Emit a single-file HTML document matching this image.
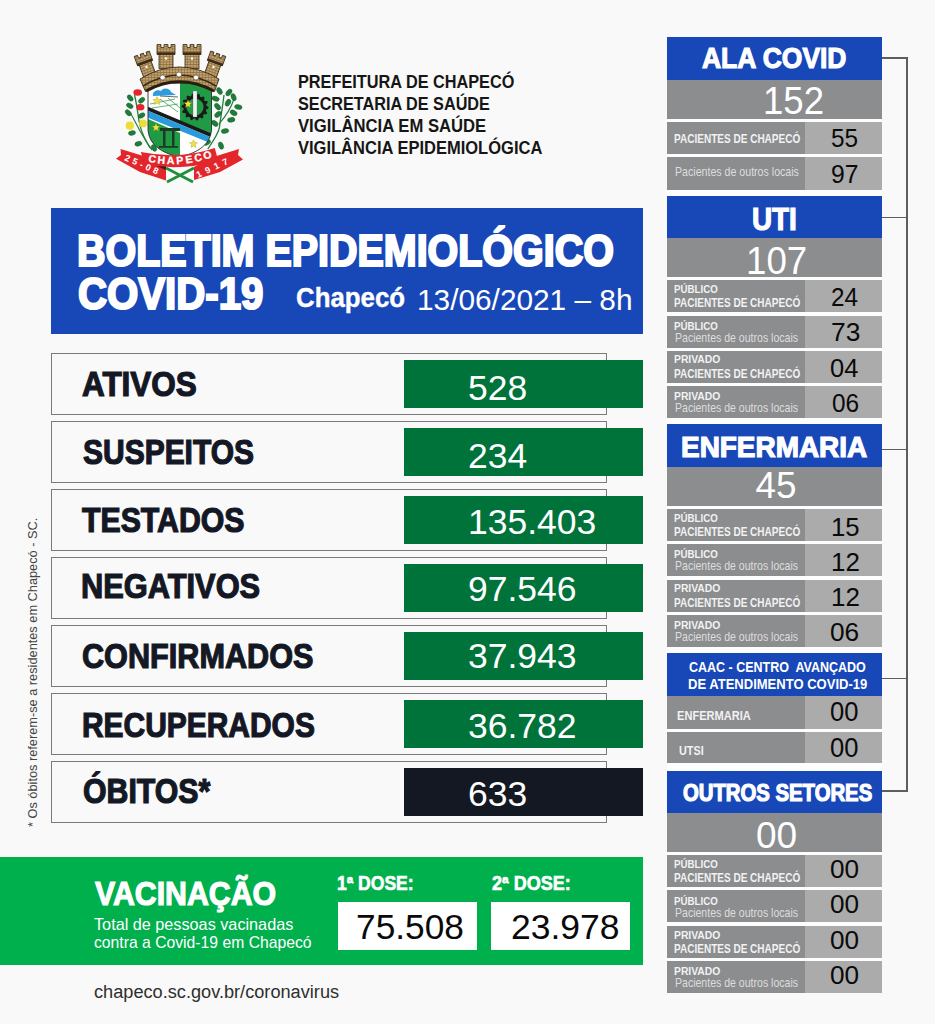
<!DOCTYPE html>
<html><head><meta charset="utf-8"><style>
html,body{margin:0;padding:0;}
body{width:935px;height:1024px;overflow:hidden;background:#f9f9f9;position:relative;}
.t{position:absolute;font-family:"Liberation Sans",sans-serif;line-height:0;white-space:nowrap;transform-origin:0 0;}
.b{position:absolute;}
</style></head><body>
<div class="b" style="left:51px;top:208px;width:592px;height:126px;background:#1847b8;"></div>
<div class="b" style="left:51px;top:353px;width:556px;height:62px;border:1.5px solid #7a7a7a;box-sizing:border-box"></div>
<div class="b" style="left:51px;top:421px;width:556px;height:62px;border:1.5px solid #7a7a7a;box-sizing:border-box"></div>
<div class="b" style="left:51px;top:489px;width:556px;height:62px;border:1.5px solid #7a7a7a;box-sizing:border-box"></div>
<div class="b" style="left:51px;top:557px;width:556px;height:62px;border:1.5px solid #7a7a7a;box-sizing:border-box"></div>
<div class="b" style="left:51px;top:625px;width:556px;height:62px;border:1.5px solid #7a7a7a;box-sizing:border-box"></div>
<div class="b" style="left:51px;top:693px;width:556px;height:62px;border:1.5px solid #7a7a7a;box-sizing:border-box"></div>
<div class="b" style="left:51px;top:761px;width:556px;height:62px;border:1.5px solid #7a7a7a;box-sizing:border-box"></div>
<div class="b" style="left:404px;top:360px;width:239px;height:48px;background:#00733b;"></div>
<div class="b" style="left:404px;top:428px;width:239px;height:48px;background:#00733b;"></div>
<div class="b" style="left:404px;top:496px;width:239px;height:48px;background:#00733b;"></div>
<div class="b" style="left:404px;top:564px;width:239px;height:48px;background:#00733b;"></div>
<div class="b" style="left:404px;top:632px;width:239px;height:48px;background:#00733b;"></div>
<div class="b" style="left:404px;top:700px;width:239px;height:48px;background:#00733b;"></div>
<div class="b" style="left:404px;top:768px;width:239px;height:48px;background:#141822;"></div>
<div class="b" style="left:0px;top:857px;width:643px;height:107.5px;background:#00b04d;"></div>
<div class="b" style="left:338px;top:901.5px;width:139px;height:48.0px;background:#fff;"></div>
<div class="b" style="left:491px;top:901.5px;width:139px;height:48.0px;background:#fff;"></div>
<div class="b" style="left:667px;top:37px;width:215px;height:956px;background:#fdfdfd;"></div>
<div class="b" style="left:667px;top:37px;width:215px;height:43px;background:#1847b8;"></div>
<div class="b" style="left:667px;top:80px;width:215px;height:39px;background:#8c8d8f;"></div>
<div class="b" style="left:667px;top:122px;width:138px;height:32px;background:#8c8d8f;"></div>
<div class="b" style="left:805px;top:122px;width:77px;height:32px;background:#ababab;"></div>
<div class="b" style="left:667px;top:157px;width:138px;height:33px;background:#8c8d8f;"></div>
<div class="b" style="left:805px;top:157px;width:77px;height:33px;background:#ababab;"></div>
<div class="b" style="left:667px;top:196px;width:215px;height:42px;background:#1847b8;"></div>
<div class="b" style="left:667px;top:238px;width:215px;height:39px;background:#8c8d8f;"></div>
<div class="b" style="left:667px;top:280px;width:138px;height:32px;background:#8c8d8f;"></div>
<div class="b" style="left:805px;top:280px;width:77px;height:32px;background:#ababab;"></div>
<div class="b" style="left:667px;top:315.5px;width:138px;height:32.0px;background:#8c8d8f;"></div>
<div class="b" style="left:805px;top:315.5px;width:77px;height:32.0px;background:#ababab;"></div>
<div class="b" style="left:667px;top:350.7px;width:138px;height:32.0px;background:#8c8d8f;"></div>
<div class="b" style="left:805px;top:350.7px;width:77px;height:32.0px;background:#ababab;"></div>
<div class="b" style="left:667px;top:386px;width:138px;height:32px;background:#8c8d8f;"></div>
<div class="b" style="left:805px;top:386px;width:77px;height:32px;background:#ababab;"></div>
<div class="b" style="left:667px;top:424px;width:215px;height:42.5px;background:#1847b8;"></div>
<div class="b" style="left:667px;top:466.5px;width:215px;height:39.5px;background:#8c8d8f;"></div>
<div class="b" style="left:667px;top:509px;width:138px;height:32px;background:#8c8d8f;"></div>
<div class="b" style="left:805px;top:509px;width:77px;height:32px;background:#ababab;"></div>
<div class="b" style="left:667px;top:544px;width:138px;height:32px;background:#8c8d8f;"></div>
<div class="b" style="left:805px;top:544px;width:77px;height:32px;background:#ababab;"></div>
<div class="b" style="left:667px;top:579.7px;width:138px;height:32.0px;background:#8c8d8f;"></div>
<div class="b" style="left:805px;top:579.7px;width:77px;height:32.0px;background:#ababab;"></div>
<div class="b" style="left:667px;top:614.7px;width:138px;height:32.0px;background:#8c8d8f;"></div>
<div class="b" style="left:805px;top:614.7px;width:77px;height:32.0px;background:#ababab;"></div>
<div class="b" style="left:667px;top:653px;width:215px;height:43px;background:#1847b8;"></div>
<div class="b" style="left:667px;top:696px;width:138px;height:32.60000000000002px;background:#8c8d8f;"></div>
<div class="b" style="left:805px;top:696px;width:77px;height:32.60000000000002px;background:#ababab;"></div>
<div class="b" style="left:667px;top:731.6px;width:138px;height:31.899999999999977px;background:#8c8d8f;"></div>
<div class="b" style="left:805px;top:731.6px;width:77px;height:31.899999999999977px;background:#ababab;"></div>
<div class="b" style="left:667px;top:770.5px;width:215px;height:42.299999999999955px;background:#1847b8;"></div>
<div class="b" style="left:667px;top:812.8px;width:215px;height:39.700000000000045px;background:#8c8d8f;"></div>
<div class="b" style="left:667px;top:855px;width:138px;height:32px;background:#8c8d8f;"></div>
<div class="b" style="left:805px;top:855px;width:77px;height:32px;background:#ababab;"></div>
<div class="b" style="left:667px;top:890.4px;width:138px;height:32.0px;background:#8c8d8f;"></div>
<div class="b" style="left:805px;top:890.4px;width:77px;height:32.0px;background:#ababab;"></div>
<div class="b" style="left:667px;top:926px;width:138px;height:32px;background:#8c8d8f;"></div>
<div class="b" style="left:805px;top:926px;width:77px;height:32px;background:#ababab;"></div>
<div class="b" style="left:667px;top:961px;width:138px;height:32px;background:#8c8d8f;"></div>
<div class="b" style="left:805px;top:961px;width:77px;height:32px;background:#ababab;"></div>
<div class="b" style="left:906.4px;top:58px;width:1.3999999999999773px;height:733.6px;background:#5e5e5e;"></div>
<div class="b" style="left:882px;top:57.4px;width:25.799999999999955px;height:1.3999999999999986px;background:#5e5e5e;"></div>
<div class="b" style="left:882px;top:216.70000000000002px;width:25.799999999999955px;height:1.4000000000000057px;background:#5e5e5e;"></div>
<div class="b" style="left:882px;top:448.9px;width:25.799999999999955px;height:1.400000000000034px;background:#5e5e5e;"></div>
<div class="b" style="left:882px;top:677.8px;width:25.799999999999955px;height:1.3999999999999773px;background:#5e5e5e;"></div>
<div class="b" style="left:882px;top:790.4px;width:25.799999999999955px;height:1.3999999999999773px;background:#5e5e5e;"></div>
<svg style="position:absolute;left:110px;top:36px" width="140" height="154" viewBox="110 36 140 154">
<defs><pattern id="brick" width="3" height="2.6" patternUnits="userSpaceOnUse"><rect width="3" height="2.6" fill="#c2a46e"/><rect x="0" y="2" width="3" height="0.6" fill="#7a5c32"/><rect x="1.2" y="0" width="0.6" height="2" fill="#8a6a3c"/></pattern></defs>
<path d="M134.5,95 C137,105 138,115 139,121 C141,132 146,142 152,150" stroke="#1f7d3b" stroke-width="1.3" fill="none"/>
<path d="M130,112 C135,122 142,135 150,148" stroke="#1f7d3b" stroke-width="1.1" fill="none"/>
<path d="M207.8,149 C214,140 219,132 219.5,127 C221,115 223,104 224,95" stroke="#1f7d3b" stroke-width="1.3" fill="none"/>
<path d="M219,124 C226,116 231,108 234,99" stroke="#1f7d3b" stroke-width="1.1" fill="none"/>
<ellipse cx="130.2" cy="98" rx="3.6" ry="2.3" transform="rotate(50 130.2 98)" fill="#1f7d3b" stroke="#125a22" stroke-width="0.4"/>
<ellipse cx="129.8" cy="105.8" rx="3.6" ry="2.3" transform="rotate(30 129.8 105.8)" fill="#1f7d3b" stroke="#125a22" stroke-width="0.4"/>
<ellipse cx="128.3" cy="112.8" rx="3.6" ry="2.3" transform="rotate(45 128.3 112.8)" fill="#1f7d3b" stroke="#125a22" stroke-width="0.4"/>
<ellipse cx="141.6" cy="100.3" rx="3.6" ry="2.3" transform="rotate(-40 141.6 100.3)" fill="#1f7d3b" stroke="#125a22" stroke-width="0.4"/>
<ellipse cx="141.6" cy="115.5" rx="3.6" ry="2.3" transform="rotate(-30 141.6 115.5)" fill="#1f7d3b" stroke="#125a22" stroke-width="0.4"/>
<ellipse cx="132" cy="133" rx="3.6" ry="2.3" transform="rotate(-10 132 133)" fill="#1f7d3b" stroke="#125a22" stroke-width="0.4"/>
<ellipse cx="138.4" cy="143.7" rx="3.6" ry="2.3" transform="rotate(-15 138.4 143.7)" fill="#1f7d3b" stroke="#125a22" stroke-width="0.4"/>
<ellipse cx="154" cy="148" rx="3.6" ry="2.3" transform="rotate(60 154 148)" fill="#1f7d3b" stroke="#125a22" stroke-width="0.4"/>
<ellipse cx="219.5" cy="91" rx="3.8" ry="2.4" transform="rotate(60 219.5 91)" fill="#1f7d3b" stroke="#125a22" stroke-width="0.4"/>
<ellipse cx="228.9" cy="92.5" rx="3.8" ry="2.4" transform="rotate(-50 228.9 92.5)" fill="#1f7d3b" stroke="#125a22" stroke-width="0.4"/>
<ellipse cx="215.6" cy="98.75" rx="3.8" ry="2.4" transform="rotate(20 215.6 98.75)" fill="#1f7d3b" stroke="#125a22" stroke-width="0.4"/>
<ellipse cx="233.6" cy="97.2" rx="3.8" ry="2.4" transform="rotate(70 233.6 97.2)" fill="#1f7d3b" stroke="#125a22" stroke-width="0.4"/>
<ellipse cx="228" cy="102.7" rx="3.8" ry="2.4" transform="rotate(-60 228 102.7)" fill="#1f7d3b" stroke="#125a22" stroke-width="0.4"/>
<ellipse cx="238.3" cy="107" rx="3.8" ry="2.4" transform="rotate(10 238.3 107)" fill="#1f7d3b" stroke="#125a22" stroke-width="0.4"/>
<ellipse cx="217.6" cy="106.6" rx="3.8" ry="2.4" transform="rotate(50 217.6 106.6)" fill="#1f7d3b" stroke="#125a22" stroke-width="0.4"/>
<ellipse cx="218" cy="114.4" rx="3.8" ry="2.4" transform="rotate(-40 218 114.4)" fill="#1f7d3b" stroke="#125a22" stroke-width="0.4"/>
<ellipse cx="233.6" cy="112.8" rx="3.8" ry="2.4" transform="rotate(30 233.6 112.8)" fill="#1f7d3b" stroke="#125a22" stroke-width="0.4"/>
<ellipse cx="231.25" cy="119.8" rx="3.8" ry="2.4" transform="rotate(-10 231.25 119.8)" fill="#1f7d3b" stroke="#125a22" stroke-width="0.4"/>
<ellipse cx="214.8" cy="123.4" rx="3.8" ry="2.4" transform="rotate(40 214.8 123.4)" fill="#1f7d3b" stroke="#125a22" stroke-width="0.4"/>
<ellipse cx="225" cy="131" rx="3.8" ry="2.4" transform="rotate(-10 225 131)" fill="#1f7d3b" stroke="#125a22" stroke-width="0.4"/>
<ellipse cx="207" cy="142.5" rx="3.8" ry="2.4" transform="rotate(-30 207 142.5)" fill="#1f7d3b" stroke="#125a22" stroke-width="0.4"/>
<ellipse cx="221" cy="145.6" rx="3.8" ry="2.4" transform="rotate(70 221 145.6)" fill="#1f7d3b" stroke="#125a22" stroke-width="0.4"/>
<ellipse cx="137.7" cy="92.5" rx="4.3" ry="3.2" fill="#e2262c"/><ellipse cx="140.4" cy="107.3" rx="4" ry="3.2" fill="#e2262c"/>
<circle cx="129.8" cy="125.7" r="4.1" fill="#eedd33"/><circle cx="143" cy="123.4" r="3.9" fill="#eedd33"/>
<clipPath id="sc"><path d="M148,83 L211.5,83 L211.5,128 C211.5,144 198,153 179.5,157 C161,153 148,144 148,128 Z"/></clipPath>
<path d="M148,83 L211.5,83 L211.5,128 C211.5,144 198,153 179.5,157 C161,153 148,144 148,128 Z" fill="#fff"/>
<g clip-path="url(#sc)">
<polygon points="180,80 215,80 215,137 180,121" fill="#1f9a45"/>
<polygon points="146,118 180,133 180,160 146,160" fill="#1f9a45"/>
<path d="M150,104 L175,99 M152,108 L178,104 M160,99 L178,112 M168,98 L180,108" stroke="#3aa655" stroke-width="0.8"/>
<polygon points="146,106 215,135 215,139 146,110" fill="#1a1a1a"/>
<polygon points="146,110 215,139 215,145 146,117" fill="#2a9ad8"/>
</g>
<path d="M148,83 L211.5,83 L211.5,128 C211.5,144 198,153 179.5,157 C161,153 148,144 148,128 Z" fill="none" stroke="#2a2a2a" stroke-width="0.9"/>
<path d="M153,96 C152,91 158,89 161,91 C163,87 170,88 171,92 L176,95 Z" fill="#2d9be0"/>
<path d="M160,96 L178,97" stroke="#444" stroke-width="0.8"/>
<polygon points="208.5,107.0 208.4,108.5 206.2,109.6 205.9,110.8 207.2,112.9 206.4,114.2 204.0,114.2 203.1,115.1 203.4,117.6 202.2,118.4 200.0,117.4 198.8,117.9 198.0,120.2 196.5,120.4 195.0,118.5 193.7,118.4 192.0,120.2 190.5,119.7 190.0,117.4 188.9,116.7 186.6,117.6 185.5,116.5 186.0,114.2 185.3,113.1 182.8,112.9 182.3,111.5 183.8,109.6 183.6,108.3 181.5,107.0 181.6,105.5 183.8,104.4 184.1,103.2 182.8,101.1 183.6,99.8 186.0,99.8 186.9,98.9 186.6,96.4 187.8,95.6 190.0,96.6 191.2,96.1 192.0,93.8 193.5,93.6 195.0,95.5 196.3,95.6 198.0,93.8 199.5,94.3 200.0,96.6 201.1,97.3 203.4,96.4 204.5,97.5 204.0,99.8 204.7,100.9 207.2,101.1 207.7,102.5 206.2,104.4 206.4,105.7" fill="#1a1a1a"/>
<circle cx="195" cy="107" r="8.6" fill="#1f9a45"/>
<rect x="193" y="91" width="4" height="26" fill="#f2f2f2" stroke="#666" stroke-width="0.3"/>
<polygon points="157.0,96.6 158.2,99.4 161.2,99.6 158.9,101.6 159.6,104.6 157.0,103.0 154.4,104.6 155.1,101.6 152.8,99.6 155.8,99.4" fill="#f4e23c" stroke="#8a7a10" stroke-width="0.3"/>
<polygon points="188.0,99.8 189.1,102.5 192.0,102.7 189.8,104.6 190.5,107.4 188.0,105.9 185.5,107.4 186.2,104.6 184.0,102.7 186.9,102.5" fill="#f4e23c" stroke="#8a7a10" stroke-width="0.3"/>
<polygon points="156.0,123.3 157.1,126.0 160.0,126.2 157.8,128.1 158.5,130.9 156.0,129.4 153.5,130.9 154.2,128.1 152.0,126.2 154.9,126.0" fill="#f4e23c" stroke="#8a7a10" stroke-width="0.3"/>
<polygon points="193.5,139.8 194.6,142.5 197.5,142.7 195.3,144.6 196.0,147.4 193.5,145.9 191.0,147.4 191.7,144.6 189.5,142.7 192.4,142.5" fill="#f4e23c" stroke="#8a7a10" stroke-width="0.3"/>
<rect x="160" y="128" width="20" height="3" fill="#1d3a22"/><rect x="163" y="131" width="2.5" height="16" fill="#1d3a22"/><rect x="172" y="131" width="2.5" height="16" fill="#1d3a22"/><rect x="159" y="146" width="19" height="1.8" fill="#1d3a22"/>
<g transform="rotate(-20 146 65.5)"><rect x="139.8" y="62.0" width="12.5" height="16.0" fill="url(#brick)" stroke="#3a2a18" stroke-width="0.8"/><path d="M138.0,63.0 L138.0,53.0 L141.5,53.0 L141.5,56.0 L144.2,56.0 L144.2,53.0 L147.8,53.0 L147.8,56.0 L150.5,56.0 L150.5,53.0 L154.0,53.0 L154.0,63.0 Z" fill="url(#brick)" stroke="#3a2a18" stroke-width="0.8"/><rect x="138.0" y="60.8" width="16.0" height="2.2" fill="#3a2a18"/><circle cx="146.0" cy="67.0" r="1.2" fill="#fff"/></g>
<g transform="rotate(20 214 65.5)"><rect x="207.8" y="62.0" width="12.5" height="16.0" fill="url(#brick)" stroke="#3a2a18" stroke-width="0.8"/><path d="M206.0,63.0 L206.0,53.0 L209.5,53.0 L209.5,56.0 L212.2,56.0 L212.2,53.0 L215.8,53.0 L215.8,56.0 L218.5,56.0 L218.5,53.0 L222.0,53.0 L222.0,63.0 Z" fill="url(#brick)" stroke="#3a2a18" stroke-width="0.8"/><rect x="206.0" y="60.8" width="16.0" height="2.2" fill="#3a2a18"/><circle cx="214.0" cy="67.0" r="1.2" fill="#fff"/></g>
<g transform="rotate(0 166 56.5)"><rect x="159.0" y="53.5" width="14.0" height="15.0" fill="url(#brick)" stroke="#3a2a18" stroke-width="0.8"/><path d="M157.0,54.5 L157.0,44.5 L161.0,44.5 L161.0,47.5 L164.0,47.5 L164.0,44.5 L168.0,44.5 L168.0,47.5 L171.0,47.5 L171.0,44.5 L175.0,44.5 L175.0,54.5 Z" fill="url(#brick)" stroke="#3a2a18" stroke-width="0.8"/><rect x="157.0" y="52.3" width="18.0" height="2.2" fill="#3a2a18"/><circle cx="166.0" cy="58.5" r="1.2" fill="#fff"/></g>
<g transform="rotate(0 192 56.5)"><rect x="185.0" y="53.5" width="14.0" height="15.0" fill="url(#brick)" stroke="#3a2a18" stroke-width="0.8"/><path d="M183.0,54.5 L183.0,44.5 L187.0,44.5 L187.0,47.5 L190.0,47.5 L190.0,44.5 L194.0,44.5 L194.0,47.5 L197.0,47.5 L197.0,44.5 L201.0,44.5 L201.0,54.5 Z" fill="url(#brick)" stroke="#3a2a18" stroke-width="0.8"/><rect x="183.0" y="52.3" width="18.0" height="2.2" fill="#3a2a18"/><circle cx="192.0" cy="58.5" r="1.2" fill="#fff"/></g>
<path d="M140,79 Q179,55 219,79 L214.5,91.5 Q179,72 145.5,91.5 Z" fill="url(#brick)" stroke="#3a2a18" stroke-width="0.9"/>
<path d="M143,86 Q179,64 216,86" stroke="#3a2a18" stroke-width="1.6" fill="none"/>
<path d="M146,91 Q179,72.5 214,91" stroke="#2a1e10" stroke-width="3" fill="none"/>
<ellipse cx="162.6" cy="77.5" rx="2.6" ry="2.4" fill="#fff" stroke="#3a2a18" stroke-width="0.5"/>
<ellipse cx="179" cy="74.5" rx="2.6" ry="2.4" fill="#fff" stroke="#3a2a18" stroke-width="0.5"/>
<ellipse cx="196" cy="77.5" rx="2.6" ry="2.4" fill="#fff" stroke="#3a2a18" stroke-width="0.5"/>
<path d="M120.5,149 L150,158 L166,167 L166,180.5 L140,172 L116,158.7 L121,155 Z" fill="#e3262c"/>
<path d="M239,149 L210,158 L194,167 L194,180 L220,172 L243,159.5 L238,155 Z" fill="#e3262c"/>
<path d="M143,160 L166,170 L166,163 Z" fill="#3a1a1a"/>
<path d="M166,168 L193,182 M194,168 L167,182" stroke="#1f8f3c" stroke-width="2.8"/>
<path d="M140.7,152 Q180,160 214.8,148 L218,160.2 Q180,172 145.2,164 Z" fill="#e3262c"/>
<text x="0" y="0" transform="translate(151.7,162.4) rotate(9.8)" text-anchor="middle" font-family="Liberation Sans" font-weight="bold" font-size="10.5" fill="#fff" stroke="#fff" stroke-width="0.3">C</text>
<text x="0" y="0" transform="translate(161.1,163.7) rotate(5.3)" text-anchor="middle" font-family="Liberation Sans" font-weight="bold" font-size="10.5" fill="#fff" stroke="#fff" stroke-width="0.3">H</text>
<text x="0" y="0" transform="translate(170.6,164.1) rotate(0.7)" text-anchor="middle" font-family="Liberation Sans" font-weight="bold" font-size="10.5" fill="#fff" stroke="#fff" stroke-width="0.3">A</text>
<text x="0" y="0" transform="translate(180.0,163.9) rotate(-3.9)" text-anchor="middle" font-family="Liberation Sans" font-weight="bold" font-size="10.5" fill="#fff" stroke="#fff" stroke-width="0.3">P</text>
<text x="0" y="0" transform="translate(189.4,162.9) rotate(-8.4)" text-anchor="middle" font-family="Liberation Sans" font-weight="bold" font-size="10.5" fill="#fff" stroke="#fff" stroke-width="0.3">E</text>
<text x="0" y="0" transform="translate(198.9,161.1) rotate(-12.9)" text-anchor="middle" font-family="Liberation Sans" font-weight="bold" font-size="10.5" fill="#fff" stroke="#fff" stroke-width="0.3">C</text>
<text x="0" y="0" transform="translate(208.3,158.5) rotate(-17.1)" text-anchor="middle" font-family="Liberation Sans" font-weight="bold" font-size="10.5" fill="#fff" stroke="#fff" stroke-width="0.3">O</text>
<text transform="translate(124,160) rotate(24)" font-family="Liberation Sans" font-weight="bold" font-size="9" fill="#fff" textLength="36" lengthAdjust="spacing">25-08</text>
<text transform="translate(198,178) rotate(-25)" font-family="Liberation Sans" font-weight="bold" font-size="9" fill="#fff" textLength="34" lengthAdjust="spacing">1917</text>
</svg>
<div class="t" style="left:297.54px;top:81.82px;font-size:17.83px;color:#161616;font-weight:bold;transform:scaleX(0.9127);">PREFEITURA DE CHAPECÓ</div>
<div class="t" style="left:298.11px;top:103.82px;font-size:17.83px;color:#161616;font-weight:bold;transform:scaleX(0.9094);">SECRETARIA DE SAÚDE</div>
<div class="t" style="left:298.43px;top:125.62px;font-size:17.83px;color:#161616;font-weight:bold;transform:scaleX(0.9345);">VIGILÂNCIA EM SAÚDE</div>
<div class="t" style="left:298.43px;top:147.62px;font-size:17.83px;color:#161616;font-weight:bold;transform:scaleX(0.9262);">VIGILÂNCIA EPIDEMIOLÓGICA</div>
<div class="t" style="left:76.72px;top:251.08px;font-size:43.91px;color:#fff;font-weight:bold;-webkit-text-stroke:2.2px #fff;transform:scaleX(0.8983);">BOLETIM EPIDEMIOLÓGICO</div>
<div class="t" style="left:77.70px;top:294.28px;font-size:43.91px;color:#fff;font-weight:bold;-webkit-text-stroke:2.2px #fff;transform:scaleX(0.9153);">COVID-19</div>
<div class="t" style="left:296.45px;top:296.56px;font-size:28.41px;color:#fff;font-weight:bold;-webkit-text-stroke:0.4px #fff;transform:scaleX(0.9093);">Chapecó</div>
<div class="t" style="left:416.76px;top:300.35px;font-size:29.29px;color:#fff;transform:scaleX(1.0181);">13/06/2021 – 8h</div>
<div class="t" style="left:81.57px;top:384.35px;font-size:34.20px;color:#141824;font-weight:bold;-webkit-text-stroke:1.2px #141824;transform:scaleX(0.9207);">ATIVOS</div>
<div class="t" style="left:82.93px;top:451.75px;font-size:34.20px;color:#141824;font-weight:bold;-webkit-text-stroke:1.2px #141824;transform:scaleX(0.8768);">SUSPEITOS</div>
<div class="t" style="left:82.03px;top:520.15px;font-size:34.20px;color:#141824;font-weight:bold;-webkit-text-stroke:1.2px #141824;transform:scaleX(0.8853);">TESTADOS</div>
<div class="t" style="left:81.44px;top:586.05px;font-size:34.20px;color:#141824;font-weight:bold;-webkit-text-stroke:1.2px #141824;transform:scaleX(0.9010);">NEGATIVOS</div>
<div class="t" style="left:81.81px;top:655.95px;font-size:34.20px;color:#141824;font-weight:bold;-webkit-text-stroke:1.2px #141824;transform:scaleX(0.8960);">CONFIRMADOS</div>
<div class="t" style="left:81.88px;top:724.55px;font-size:34.20px;color:#141824;font-weight:bold;-webkit-text-stroke:1.2px #141824;transform:scaleX(0.8756);">RECUPERADOS</div>
<div class="t" style="left:82.62px;top:791.35px;font-size:34.20px;color:#141824;font-weight:bold;-webkit-text-stroke:1.2px #141824;transform:scaleX(0.8858);">ÓBITOS*</div>
<div class="t" style="left:468.00px;top:387.60px;font-size:35.50px;color:#fff;">528</div>
<div class="t" style="left:468.00px;top:455.50px;font-size:35.50px;color:#fff;">234</div>
<div class="t" style="left:468.00px;top:521.50px;font-size:35.50px;color:#fff;">135.403</div>
<div class="t" style="left:468.00px;top:588.80px;font-size:35.50px;color:#fff;">97.546</div>
<div class="t" style="left:468.00px;top:655.90px;font-size:35.50px;color:#fff;">37.943</div>
<div class="t" style="left:468.00px;top:725.70px;font-size:35.50px;color:#fff;">36.782</div>
<div class="t" style="left:468.00px;top:793.80px;font-size:35.50px;color:#fff;">633</div>
<div class="t" style="left:701.67px;top:58.16px;font-size:29.86px;color:#fff;font-weight:bold;-webkit-text-stroke:1.2px #fff;transform:scaleX(0.8856);">ALA COVID</div>
<div class="t" style="left:751.57px;top:220.45px;font-size:30.72px;color:#fff;font-weight:bold;-webkit-text-stroke:1.2px #fff;transform:scaleX(0.9055);">UTI</div>
<div class="t" style="left:681.16px;top:447.06px;font-size:28.99px;color:#fff;font-weight:bold;-webkit-text-stroke:1.2px #fff;transform:scaleX(0.9636);">ENFERMARIA</div>
<div class="t" style="left:688.60px;top:666.63px;font-size:14.06px;color:#fff;font-weight:bold;transform:scaleX(0.8896);">CAAC - CENTRO  AVANÇADO</div>
<div class="t" style="left:687.55px;top:683.93px;font-size:14.06px;color:#fff;font-weight:bold;transform:scaleX(0.9275);">DE ATENDIMENTO COVID-19</div>
<div class="t" style="left:682.71px;top:793.37px;font-size:23.19px;color:#fff;font-weight:bold;-webkit-text-stroke:1.2px #fff;transform:scaleX(0.8758);">OUTROS SETORES</div>
<div class="t" style="left:763.25px;top:100.78px;font-size:38.14px;color:#fff;transform:scaleX(0.9602);">152</div>
<div class="t" style="left:746.15px;top:261.33px;font-size:38.57px;color:#fff;transform:scaleX(0.9512);">107</div>
<div class="t" style="left:755.58px;top:485.83px;font-size:36.86px;color:#fff;">45</div>
<div class="t" style="left:755.72px;top:835.93px;font-size:36.57px;color:#fff;transform:scaleX(1.0115);">00</div>
<div class="t" style="left:831.43px;top:137.89px;font-size:25.71px;color:#0a0a0a;transform:scaleX(0.9477);">55</div>
<div class="t" style="left:831.29px;top:173.59px;font-size:25.71px;color:#0a0a0a;transform:scaleX(0.9617);">97</div>
<div class="t" style="left:831.29px;top:296.89px;font-size:25.71px;color:#0a0a0a;transform:scaleX(0.9439);">24</div>
<div class="t" style="left:831.18px;top:332.39px;font-size:25.71px;color:#0a0a0a;transform:scaleX(1.0268);">73</div>
<div class="t" style="left:829.98px;top:367.59px;font-size:25.71px;color:#0a0a0a;transform:scaleX(0.9909);">04</div>
<div class="t" style="left:831.52px;top:402.89px;font-size:25.71px;color:#0a0a0a;transform:scaleX(0.9485);">06</div>
<div class="t" style="left:831.07px;top:526.64px;font-size:26.43px;color:#0a0a0a;transform:scaleX(0.9735);">15</div>
<div class="t" style="left:831.05px;top:561.64px;font-size:26.43px;color:#0a0a0a;transform:scaleX(0.9834);">12</div>
<div class="t" style="left:831.05px;top:597.34px;font-size:26.43px;color:#0a0a0a;transform:scaleX(0.9834);">12</div>
<div class="t" style="left:829.95px;top:632.34px;font-size:26.43px;color:#0a0a0a;transform:scaleX(0.9930);">06</div>
<div class="t" style="left:830.38px;top:711.84px;font-size:26.71px;color:#0a0a0a;transform:scaleX(0.9558);">00</div>
<div class="t" style="left:830.38px;top:747.84px;font-size:26.71px;color:#0a0a0a;transform:scaleX(0.9558);">00</div>
<div class="t" style="left:829.95px;top:868.64px;font-size:26.14px;color:#0a0a0a;">00</div>
<div class="t" style="left:829.95px;top:904.04px;font-size:26.14px;color:#0a0a0a;">00</div>
<div class="t" style="left:829.95px;top:939.64px;font-size:26.14px;color:#0a0a0a;">00</div>
<div class="t" style="left:829.95px;top:974.64px;font-size:26.14px;color:#0a0a0a;">00</div>
<div class="t" style="left:674.05px;top:139.48px;font-size:13.04px;color:#f2f2f2;font-weight:bold;transform:scaleX(0.7694);">PACIENTES DE CHAPECÓ</div>
<div class="t" style="left:674.65px;top:172.23px;font-size:13.48px;color:#dedede;transform:scaleX(0.7881);">Pacientes de outros locais</div>
<div class="t" style="left:674.07px;top:289.68px;font-size:10.43px;color:#f2f2f2;font-weight:bold;transform:scaleX(0.9321);">PÚBLICO</div>
<div class="t" style="left:674.05px;top:303.23px;font-size:12.03px;color:#f2f2f2;font-weight:bold;transform:scaleX(0.8343);">PACIENTES DE CHAPECÓ</div>
<div class="t" style="left:674.07px;top:326.88px;font-size:10.43px;color:#f2f2f2;font-weight:bold;transform:scaleX(0.9321);">PÚBLICO</div>
<div class="t" style="left:674.66px;top:337.98px;font-size:12.17px;color:#dedede;transform:scaleX(0.8669);">Pacientes de outros locais</div>
<div class="t" style="left:674.03px;top:360.38px;font-size:10.43px;color:#f2f2f2;font-weight:bold;transform:scaleX(0.9923);">PRIVADO</div>
<div class="t" style="left:674.05px;top:373.93px;font-size:12.03px;color:#f2f2f2;font-weight:bold;transform:scaleX(0.8343);">PACIENTES DE CHAPECÓ</div>
<div class="t" style="left:674.03px;top:397.38px;font-size:10.43px;color:#f2f2f2;font-weight:bold;transform:scaleX(0.9923);">PRIVADO</div>
<div class="t" style="left:674.66px;top:408.48px;font-size:12.17px;color:#dedede;transform:scaleX(0.8669);">Pacientes de outros locais</div>
<div class="t" style="left:674.07px;top:518.68px;font-size:10.43px;color:#f2f2f2;font-weight:bold;transform:scaleX(0.9321);">PÚBLICO</div>
<div class="t" style="left:674.05px;top:532.23px;font-size:12.03px;color:#f2f2f2;font-weight:bold;transform:scaleX(0.8343);">PACIENTES DE CHAPECÓ</div>
<div class="t" style="left:674.07px;top:555.38px;font-size:10.43px;color:#f2f2f2;font-weight:bold;transform:scaleX(0.9321);">PÚBLICO</div>
<div class="t" style="left:674.66px;top:566.48px;font-size:12.17px;color:#dedede;transform:scaleX(0.8669);">Pacientes de outros locais</div>
<div class="t" style="left:674.03px;top:589.38px;font-size:10.43px;color:#f2f2f2;font-weight:bold;transform:scaleX(0.9923);">PRIVADO</div>
<div class="t" style="left:674.05px;top:602.93px;font-size:12.03px;color:#f2f2f2;font-weight:bold;transform:scaleX(0.8343);">PACIENTES DE CHAPECÓ</div>
<div class="t" style="left:674.03px;top:626.08px;font-size:10.43px;color:#f2f2f2;font-weight:bold;transform:scaleX(0.9923);">PRIVADO</div>
<div class="t" style="left:674.66px;top:637.18px;font-size:12.17px;color:#dedede;transform:scaleX(0.8669);">Pacientes de outros locais</div>
<div class="t" style="left:674.07px;top:864.68px;font-size:10.43px;color:#f2f2f2;font-weight:bold;transform:scaleX(0.9321);">PÚBLICO</div>
<div class="t" style="left:674.05px;top:878.23px;font-size:12.03px;color:#f2f2f2;font-weight:bold;transform:scaleX(0.8343);">PACIENTES DE CHAPECÓ</div>
<div class="t" style="left:674.07px;top:901.78px;font-size:10.43px;color:#f2f2f2;font-weight:bold;transform:scaleX(0.9321);">PÚBLICO</div>
<div class="t" style="left:674.66px;top:912.88px;font-size:12.17px;color:#dedede;transform:scaleX(0.8669);">Pacientes de outros locais</div>
<div class="t" style="left:674.03px;top:935.68px;font-size:10.43px;color:#f2f2f2;font-weight:bold;transform:scaleX(0.9923);">PRIVADO</div>
<div class="t" style="left:674.05px;top:949.23px;font-size:12.03px;color:#f2f2f2;font-weight:bold;transform:scaleX(0.8343);">PACIENTES DE CHAPECÓ</div>
<div class="t" style="left:674.03px;top:972.38px;font-size:10.43px;color:#f2f2f2;font-weight:bold;transform:scaleX(0.9923);">PRIVADO</div>
<div class="t" style="left:674.66px;top:983.48px;font-size:12.17px;color:#dedede;transform:scaleX(0.8669);">Pacientes de outros locais</div>
<div class="t" style="left:677.28px;top:715.68px;font-size:11.88px;color:#f2f2f2;font-weight:bold;transform:scaleX(0.9330);">ENFERMARIA</div>
<div class="t" style="left:679.35px;top:750.58px;font-size:11.88px;color:#f2f2f2;font-weight:bold;transform:scaleX(0.9119);">UTSI</div>
<div class="t" style="left:94.83px;top:892.95px;font-size:33.91px;color:#fff;font-weight:bold;-webkit-text-stroke:1.2px #fff;transform:scaleX(0.8932);">VACINAÇÃO</div>
<div class="t" style="left:93.89px;top:924.17px;font-size:17.39px;color:#fff;transform:scaleX(0.9336);">Total de pessoas vacinadas</div>
<div class="t" style="left:93.59px;top:941.97px;font-size:17.39px;color:#fff;transform:scaleX(0.9046);">contra a Covid-19 em Chapecó</div>
<div class="t" style="left:336.83px;top:883.37px;font-size:19.71px;color:#fff;font-weight:bold;-webkit-text-stroke:0.6px #fff;transform:scaleX(0.8902);">1ª DOSE:</div>
<div class="t" style="left:491.54px;top:883.27px;font-size:19.71px;color:#fff;font-weight:bold;-webkit-text-stroke:0.6px #fff;transform:scaleX(0.9160);">2ª DOSE:</div>
<div class="t" style="left:356.43px;top:926.82px;font-size:35.14px;color:#0a0a0a;transform:scaleX(1.0050);">75.508</div>
<div class="t" style="left:510.92px;top:927.12px;font-size:35.14px;color:#0a0a0a;transform:scaleX(1.0108);">23.978</div>
<div class="t" style="left:93.58px;top:992.05px;font-size:18.62px;color:#2e2e2e;transform:scaleX(0.9764);">chapeco.sc.gov.br/coronavirus</div>
<div class="t" style="left:32.89px;top:827.26px;font-size:13.6px;color:#444;transform-origin:0 0;transform:rotate(-90deg) scaleX(0.9389);">* Os óbitos referem-se a residentes em Chapecó - SC.</div>
</body></html>
